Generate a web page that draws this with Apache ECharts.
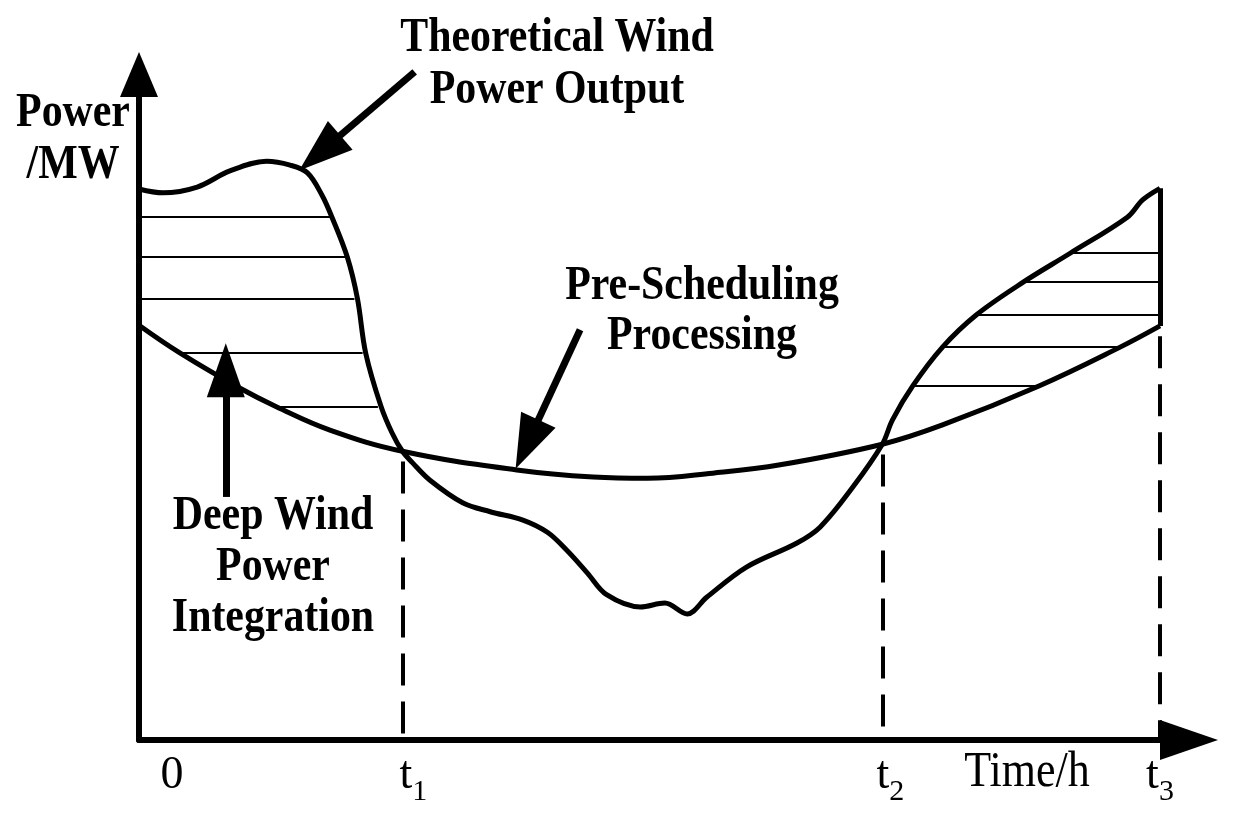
<!DOCTYPE html>
<html><head><meta charset="utf-8">
<script src="https://cdn.jsdelivr.net/npm/echarts@6/dist/echarts.min.js"></script>
<style>html,body{margin:0;padding:0;background:#fff}#c{width:1237px;height:824px}</style>
</head><body><div id="c"></div>
<script>
// ---------- data (abstract units: time 0..100, power 0..100) ----------
const T1 = 25.8, T2 = 72.8, T3 = 100;
const xTickValues = [0, T1, T2, T3];
const xTickMain = ['0', 't', 't', 't'];
const xTickSub = ['', '1', '2', '3'];

// theoretical wind power output
const theoX = [0, 2.35, 5.7, 8.9, 12.5, 14.8, 16.5, 17.9, 18.9, 20.4, 21.4, 22.2, 23.7, 24.8, 25.8,
  26.8, 28.5, 31.7, 34.4, 37.6, 40.0, 41.9, 43.9, 45.8, 49.1, 51.5, 53.7, 55.6, 59.5, 64.4, 66.7, 69.9,
  72.8, 73.8, 75.8, 78.7, 82.0, 86.6, 91.2, 96.8, 98.3, 100];
const theoY = [85.7, 85.1, 86.0, 88.5, 90.0, 89.4, 88.2, 84.8, 81.3, 75.1, 68.6, 60.2, 51.9, 47.7, 44.9,
  43.1, 40.4, 36.9, 35.5, 34.2, 32.3, 29.5, 26.0, 22.6, 20.7, 21.3, 19.6, 22.2, 26.9, 30.6, 33.1, 39.3,
  46.0, 49.8, 55.1, 61.1, 66.1, 71.2, 75.7, 81.3, 84.0, 85.8];

// pre-scheduling processing curve
const preX = [0, 4.0, 9.9, 13.5, 18.7, 25.8, 37.0, 44.5, 49.8, 56.2, 62.8, 72.8, 78.7, 88.2, 96.1, 100];
const preY = [64.5, 60.2, 54.7, 51.8, 48.2, 44.9, 42.0, 40.9, 40.7, 41.5, 42.8, 46.0, 49.0, 55.1, 61.1, 64.4];

// hatch segments (level, start, end)
const hatchY  = [81.3, 75.1, 68.6, 60.2, 51.9, 75.7, 71.2, 66.1, 61.1, 55.1];
const hatchX0 = [0, 0, 0, 4.0, 13.5, 91.4, 86.8, 82.2, 78.9, 76.0];
const hatchX1 = [18.7, 20.2, 21.1, 21.9, 23.4, 100, 100, 100, 96.1, 88.2];

// dashed drop lines at t1, t2, t3
const dropX = [T1, T2, T3];
const dropTop = [44.9, 46.0, 64.4];

// solid boundary at t3
const edgeBottom = 64.4, edgeTop = 85.8;

// annotation arrows (tail -> head)
const arrowFrom = [[27.0, 103.9], [43.2, 63.8], [8.5, 37.8]];
const arrowTo   = [[17.7, 91.3], [38.0, 46.0], [8.5, 57.5]];

// ---------- chart ----------
const chart = echarts.init(document.getElementById('c'), null, {renderer: 'canvas'});
const BLACK = '#000';
const SERIF = '"Liberation Serif", "Times New Roman", serif';

const option = {
  backgroundColor: '#fff',
  animation: false,
  grid: {left: 139, right: 77, top: 97, bottom: 84, containLabel: false, outerBoundsMode: 'none'},
  xAxis: {
    type: 'value', min: 0, max: T3,
    axisLine: {show: true, onZero: false, lineStyle: {color: BLACK, width: 6},
      symbol: ['none', 'triangle'], symbolSize: [40, 58], symbolOffset: [0, 29]},
    axisTick: {show: false},
    splitLine: {show: false},
    axisLabel: {
      customValues: xTickValues,
      margin: 10,
      formatter: function (v, i) {
        const k = xTickValues.indexOf(v);
        const idx = k >= 0 ? k : i;
        const mainStyle = ['z', 'p1', 'p2', 'a'][idx];
        let s = '{' + mainStyle + '|' + xTickMain[idx] + '}';
        if (xTickSub[idx]) s += '{s|' + xTickSub[idx] + '}';
        return s;
      },
      rich: {
        a:  {fontFamily: SERIF, fontSize: 46, lineHeight: 52, color: BLACK},
        z:  {fontFamily: SERIF, fontSize: 46, lineHeight: 52, color: BLACK, padding: [0, 0, 0, 66]},
        p1: {fontFamily: SERIF, fontSize: 46, lineHeight: 52, color: BLACK, padding: [0, 0, 0, 22]},
        p2: {fontFamily: SERIF, fontSize: 46, lineHeight: 52, color: BLACK, padding: [0, 0, 0, 16]},
        s:  {fontFamily: SERIF, fontSize: 30, lineHeight: 30, color: BLACK, padding: [32, 0, 0, 0]}
      }
    }
  },
  yAxis: {
    type: 'value', min: 0, max: 100,
    axisLine: {show: true, onZero: false, lineStyle: {color: BLACK, width: 6},
      symbol: ['none', 'triangle'], symbolSize: [38, 45], symbolOffset: [0, 22.5]},
    axisTick: {show: false},
    axisLabel: {show: false},
    splitLine: {show: false}
  },
  series: [
    {
      name: 'Theoretical Wind Power Output', type: 'line', smooth: 0.35,
      symbol: 'none', showSymbol: false,
      data: theoX.map((x, i) => [x, theoY[i]]),
      lineStyle: {color: BLACK, width: 5}, z: 5
    },
    {
      name: 'Pre-Scheduling Processing', type: 'line', smooth: 0.4,
      symbol: 'none', showSymbol: false,
      data: preX.map((x, i) => [x, preY[i]]),
      lineStyle: {color: BLACK, width: 5}, z: 5
    },
    {
      name: 'hatch', type: 'lines', coordinateSystem: 'cartesian2d',
      data: hatchY.map((y, i) => ({coords: [[hatchX0[i], y], [hatchX1[i], y]]})),
      lineStyle: {color: BLACK, width: 2, opacity: 1}, z: 3
    },
    {
      name: 'drops', type: 'lines', coordinateSystem: 'cartesian2d',
      data: dropX.map((x, i) => ({coords: [[x, dropTop[i] - 1.6], [x, 0]]})),
      lineStyle: {color: BLACK, width: 4, type: [32, 16], opacity: 1}, z: 3
    },
    {
      name: 'edge', type: 'lines', coordinateSystem: 'cartesian2d',
      data: [{coords: [[T3, edgeBottom], [T3, edgeTop]]}],
      lineStyle: {color: BLACK, width: 5, opacity: 1}, z: 4
    },
    {
      name: 'arrows', type: 'lines', coordinateSystem: 'cartesian2d', clip: false,
      symbol: ['none', 'triangle'], symbolSize: [[1, 1], [38, 54]],
      data: arrowFrom.map((p, i) => ({coords: [p, arrowTo[i]]})),
      lineStyle: {color: BLACK, width: 7, opacity: 1}, z: 6
    }
  ],
  graphic: {elements: [
    {type: 'text', x: 557, y: 65, scaleX: 0.872, z: 10,
      style: {text: 'Theoretical Wind\nPower Output', font: 'bold 48px ' + SERIF, fill: BLACK,
        align: 'center', verticalAlign: 'middle', lineHeight: 52}},
    {type: 'text', x: 73, y: 140, scaleX: 0.872, z: 10,
      style: {text: 'Power\n/MW', font: 'bold 48px ' + SERIF, fill: BLACK,
        align: 'center', verticalAlign: 'middle', lineHeight: 52}},
    {type: 'text', x: 702, y: 312, scaleX: 0.872, z: 10,
      style: {text: 'Pre-Scheduling\nProcessing', font: 'bold 48px ' + SERIF, fill: BLACK,
        align: 'center', verticalAlign: 'middle', lineHeight: 50}},
    {type: 'text', x: 273, y: 567.5, scaleX: 0.872, z: 10,
      style: {text: 'Deep Wind\nPower\nIntegration', font: 'bold 48px ' + SERIF, fill: BLACK,
        align: 'center', verticalAlign: 'middle', lineHeight: 51}},
    {type: 'text', x: 1027, y: 773, scaleX: 0.88, z: 10,
      style: {text: 'Time/h', font: '50px ' + SERIF, fill: BLACK,
        align: 'center', verticalAlign: 'middle'}}
  ]}
};
chart.setOption(option);
</script>
</body></html>
